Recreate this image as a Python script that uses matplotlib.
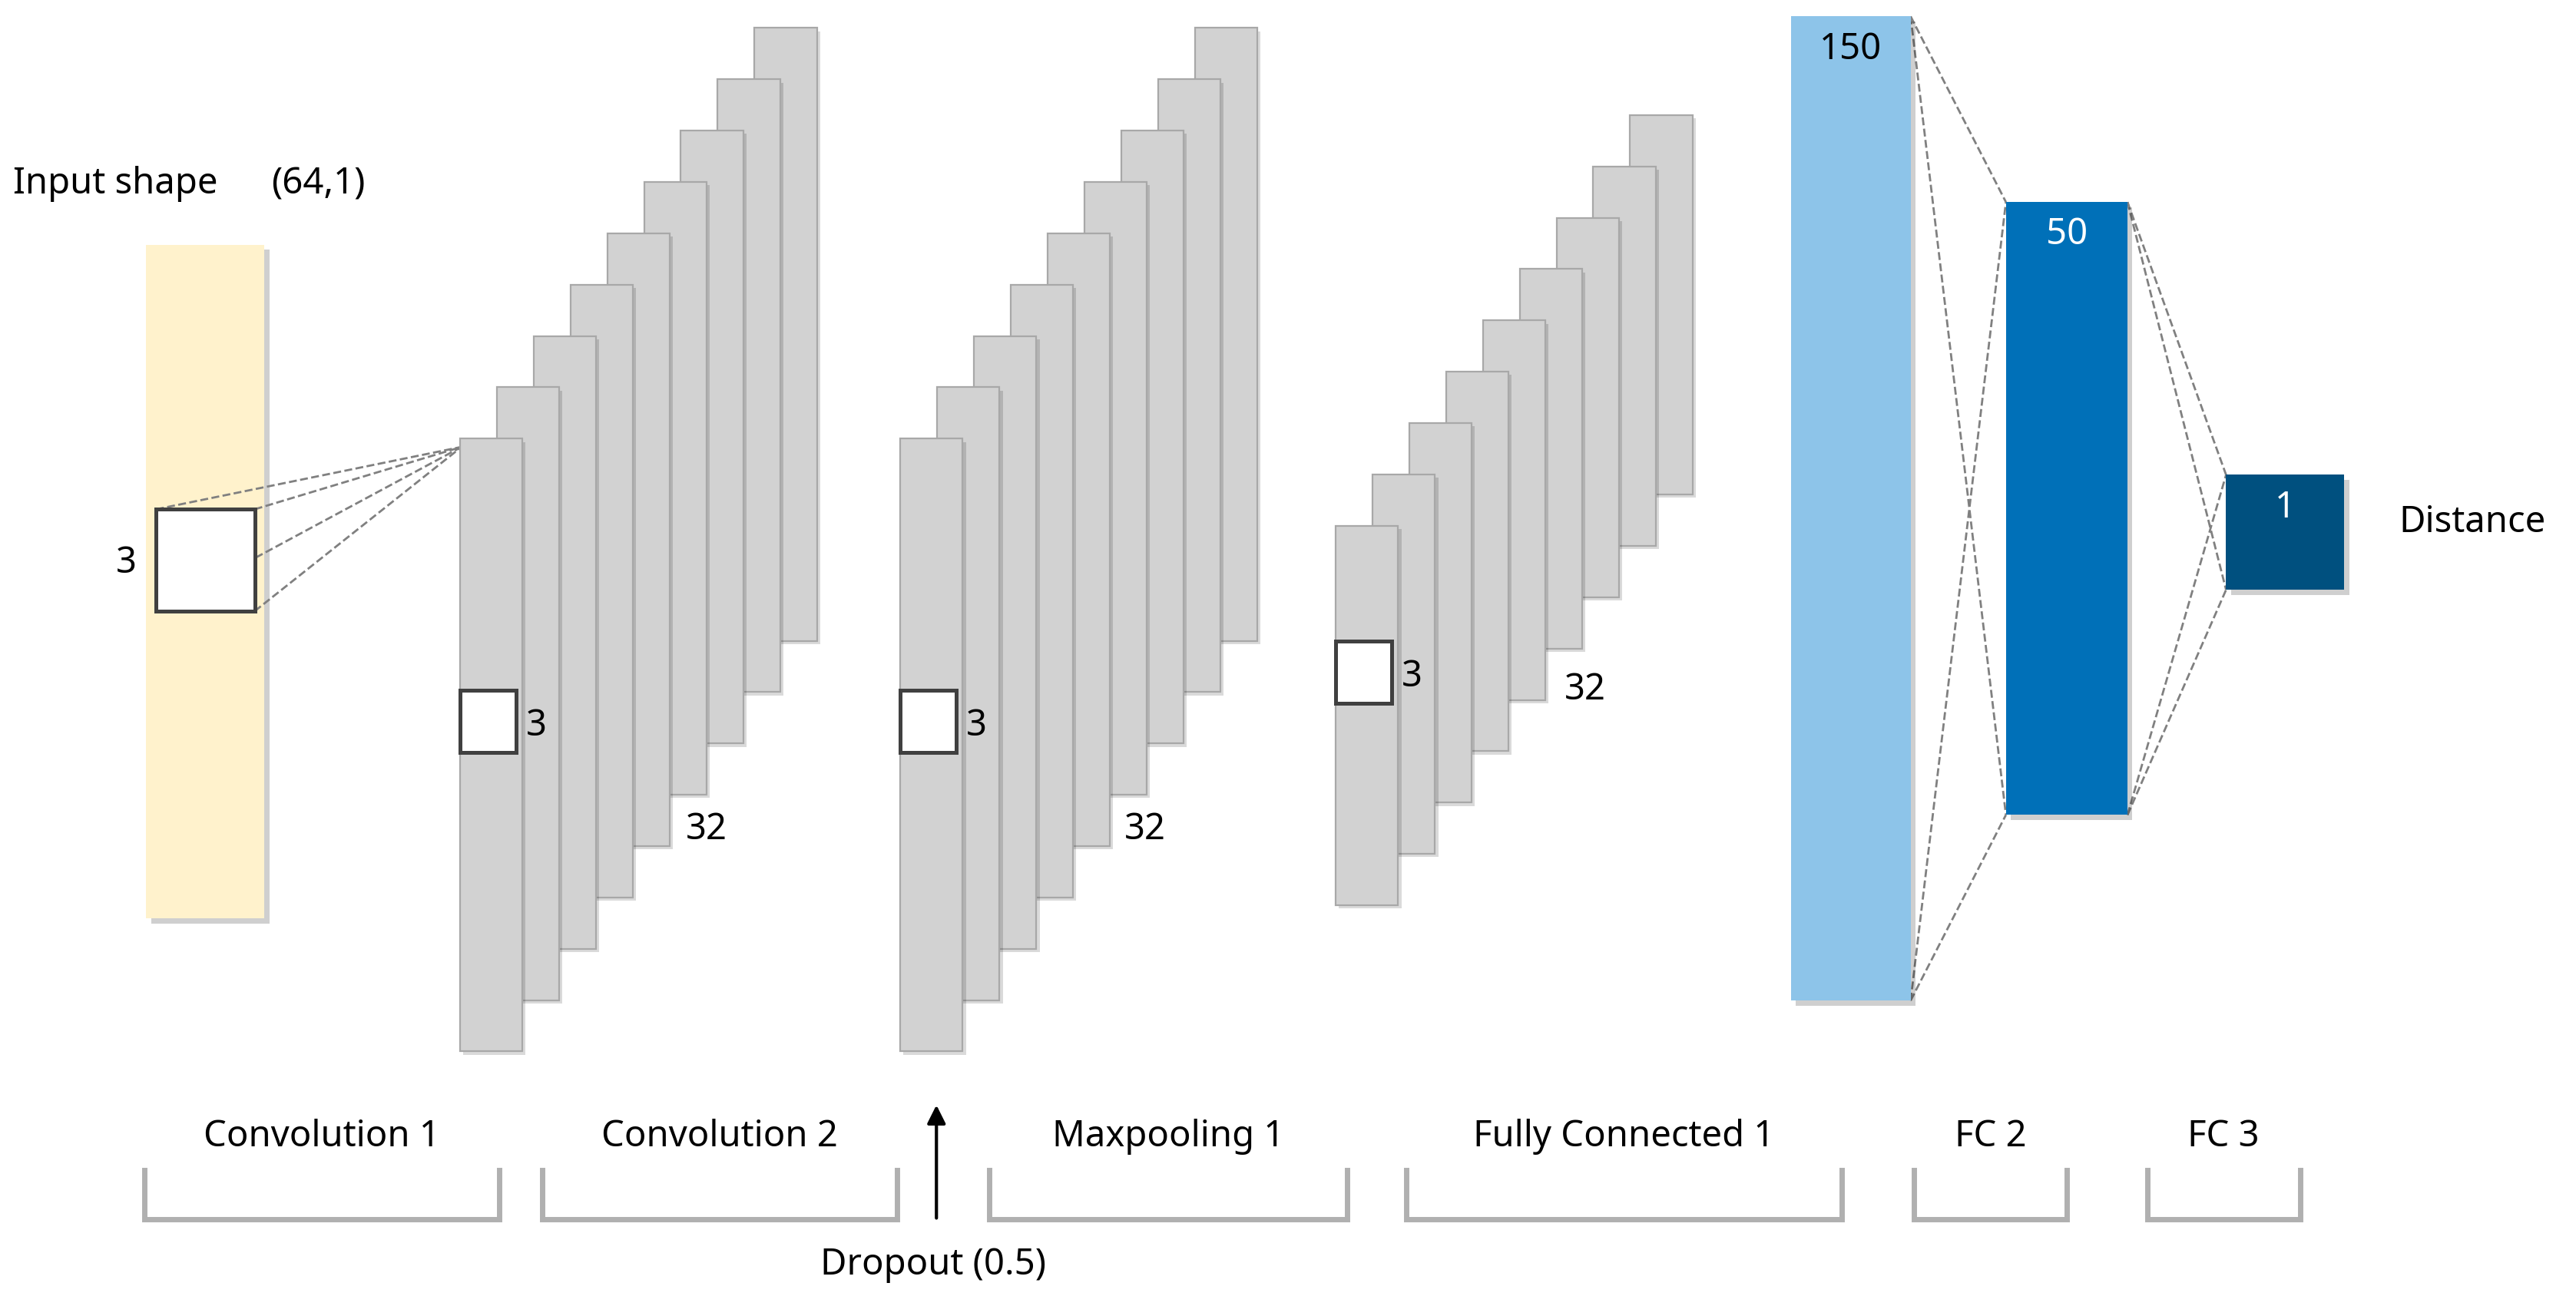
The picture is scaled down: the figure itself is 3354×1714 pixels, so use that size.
import matplotlib
matplotlib.use("Agg")
import matplotlib.pyplot as plt
from matplotlib.patches import Rectangle, FancyArrowPatch

plt.rcParams['font.family'] = ['Noto Sans', 'DejaVu Sans']

# data
stack_fronts = [(280, 267, 38, 373), (548, 267, 38, 373), (813, 320, 38, 231)]
stack_counts = [9, 9, 9]
stack_dx = [22.4, 22.4, 22.4]
stack_dy = [-31.25, -31.25, -31.25]
kernel_labels = ["3", "3", "3"]
filter_labels = ["32", "32", "32"]
filter_label_pos = [(430, 505), (697, 505), (965, 420)]
fc_boxes = [(1090, 10, 73, 599, '#8DC4E9', '150', 'black'),
            (1221, 123, 74, 373, '#0070B8', '50', 'white'),
            (1355, 289, 72, 70, '#00507F', '1', 'white')]
sections = ["Convolution 1", "Convolution 2", "Maxpooling 1", "Fully Connected 1", "FC 2", "FC 3"]
section_spans = [(88, 304), (330, 546), (602, 820), (856, 1121), (1165, 1258), (1307, 1400)]

W, H = 1568, 801
fig = plt.figure(figsize=(16.77, 8.57), dpi=200)
ax = fig.add_axes([0, 0, 1, 1])
ax.set_xlim(0, W); ax.set_ylim(H, 0); ax.axis('off')

def shadow_rect(x, y, w, h, fc, ec='none', lw=0.8, z=1):
    ax.add_patch(Rectangle((x + 3, y + 3), w, h, fc='#00000030', ec='none', zorder=z - 0.1))
    ax.add_patch(Rectangle((x, y), w, h, fc=fc, ec=ec, lw=lw, zorder=z))

# input
shadow_rect(89, 149, 72, 410, '#FFF2CC', z=2)
ax.text(8, 112, "Input shape ", fontsize=17, va='center', ha='left')
ax.text(165, 112, "(64,1)", fontsize=17, va='center', ha='left', fontweight='bold')
ax.add_patch(Rectangle((95, 310), 60, 62, fc='white', ec='#404040', lw=1.8, zorder=3))
ax.text(83, 343, "3", fontsize=17, va='center', ha='right')
for (px, py) in [(95, 310), (155, 310), (95, 372), (155, 372)]:
    ax.plot([px, 281], [py, 272], ls='--', color='#808080', lw=1, zorder=2.5)

# stacks
for i, (x, y, w, h) in enumerate(stack_fronts):
    n = stack_counts[i]
    for k in range(n - 1, -1, -1):
        rx = x + k * stack_dx[i]; ry = y + k * stack_dy[i]
        z = 10 + (n - k)
        ax.add_patch(Rectangle((rx + 2, ry + 2), w, h, fc='#00000025', ec='none', zorder=z - 0.5))
        ax.add_patch(Rectangle((rx, ry), w, h, fc='#D2D2D2', ec='#A8A8A8', lw=0.8, zorder=z))
    by = 420 if i < 2 else 390
    ax.add_patch(Rectangle((x, by), 34, 38, fc='white', ec='#404040', lw=1.8, zorder=30))
    ax.text(x + 40, by + 22, kernel_labels[i], fontsize=17, va='center', ha='left', zorder=31)
    fx, fy = filter_label_pos[i]
    ax.text(fx, fy, filter_labels[i], fontsize=17, va='center', ha='center')

# fc boxes
for (x, y, w, h, c, t, tc) in fc_boxes:
    shadow_rect(x, y, w, h, c, z=5)
    ax.text(x + w / 2, y + 20, t, fontsize=17, color=tc, ha='center', va='center',
            fontweight='bold' if tc == 'white' else 'normal', zorder=6)
for a, b in [(0, 1), (1, 2)]:
    xa, ya, wa, ha_ = fc_boxes[a][:4]; xb, yb, wb, hb = fc_boxes[b][:4]
    for y1 in (ya, ya + ha_):
        for y2 in (yb, yb + hb):
            ax.plot([xa + wa, xb], [y1, y2], ls='--', color='#808080', lw=1, zorder=4)
ax.text(1460, 318, "Distance", fontsize=17, va='center', ha='left')

# brackets
for name, (x0, x1) in zip(sections, section_spans):
    ax.plot([x0, x0, x1, x1], [712, 742, 742, 712], color='#B0B0B0', lw=2.5, solid_joinstyle='miter')
    ax.text((x0 + x1) / 2, 692, name, fontsize=17, ha='center', va='center')

ax.add_patch(FancyArrowPatch((570, 744), (570, 670), arrowstyle='-|>', mutation_scale=18, color='black', lw=1.5))
ax.text(568, 770, "Dropout (0.5)", fontsize=17, ha='center', va='center')

fig.savefig("out.png", dpi=200)
